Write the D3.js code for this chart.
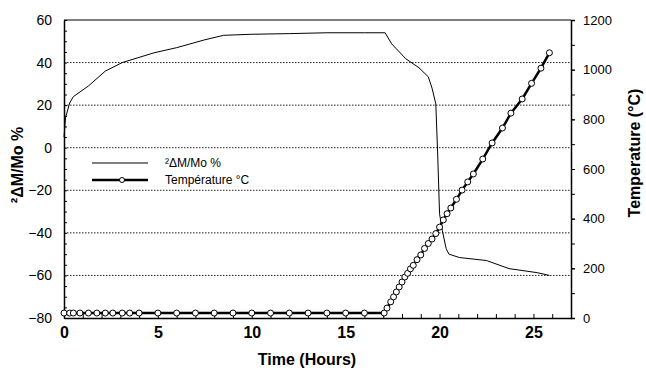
<!DOCTYPE html>
<html><head><meta charset="utf-8">
<script src="https://cdn.jsdelivr.net/npm/d3@7"></script>
<style>body{margin:0;background:#fff}svg{display:block}</style>
</head><body>
<svg id="c" width="646" height="371"></svg>
<script>
// ---- data ----
const massTime = [0, 0.08, 0.3, 0.5, 1.3, 2.2, 3.1, 4.8, 6.0, 7.5, 8.5, 10, 12, 14, 16, 17.1, 17.45, 18.2, 18.9, 19.4, 19.6, 19.8, 19.9, 20.0, 20.15, 20.35, 20.5, 21.06, 22.5, 23.7, 25.2, 25.85];
const massValue = [5, 14, 21, 24, 29, 36, 40, 44.6, 47, 50.7, 52.8, 53.3, 53.6, 54, 54, 54, 48.8, 41.8, 37.6, 33.3, 28, 20.6, -3, -31, -39, -47.4, -50, -51.6, -53, -56.8, -58.7, -60];
const tempTime = [0, 0.3, 0.5, 0.85, 1.3, 1.75, 2.2, 2.6, 3.1, 3.5, 4.0, 5, 6, 7, 8, 9, 10, 11, 12, 13, 14, 15, 16, 17.05,
  17.2, 17.4, 17.55, 17.7, 17.85, 18.0, 18.15, 18.3, 18.45, 18.6, 18.8, 19.0, 19.2, 19.4, 19.6, 19.8, 20.0, 20.2, 20.4, 20.6, 20.9, 21.2, 21.5, 21.8, 22.3, 22.8, 23.35, 23.8, 24.4, 24.9, 25.4, 25.85];
const tempValue = [20, 20, 20, 20, 20, 20, 20, 20, 20, 20, 20, 20, 20, 20, 20, 20, 20, 20, 20, 20, 20, 20, 20, 20,
  40, 65, 85, 105, 125, 145, 165, 180, 198, 212, 235, 254, 280, 300, 318, 340, 366, 395, 420, 443, 478, 515, 548, 580, 640, 705, 765, 825, 882, 945, 1006, 1068];
const xTicks = [0, 5, 10, 15, 20, 25];
const yLeftTicks = [60, 40, 20, 0, -20, -40, -60, -80];
const yRightTicks = [1200, 1000, 800, 600, 400, 200, 0];
const gridValues = [40, 20, 0, -20, -40, -60];

// ---- scales ----
const L = 64, R = 571, T = 20, B = 318;
const x = d3.scaleLinear().domain([0, 27]).range([L, R]);
const yL = d3.scaleLinear().domain([-80, 60]).range([B, T]);
const yR = d3.scaleLinear().domain([0, 1200]).range([B, T]);

const svg = d3.select("#c");
const font = "Arial, 'Liberation Sans', sans-serif";

// grid
svg.append("g").selectAll("line").data(gridValues).join("line")
  .attr("x1", L).attr("x2", R).attr("y1", d => yL(d)).attr("y2", d => yL(d))
  .attr("stroke", "#222").attr("stroke-width", 1).attr("stroke-dasharray", "1.5,1.5");

// frame top
svg.append("line").attr("x1", L).attr("x2", R).attr("y1", T).attr("y2", T).attr("stroke", "#000");

// left axis
const gL = svg.append("g").attr("transform", `translate(${L},0)`)
  .call(d3.axisLeft(yL).tickValues(yLeftTicks).tickSize(0).tickPadding(12).tickFormat(d3.format("d")));
gL.select(".domain").attr("stroke", "#000").attr("stroke-width", 1.5);
gL.selectAll("text").attr("font-family", font).attr("font-size", 14).attr("fill", "#000");
svg.append("g").attr("transform", `translate(${L},0)`)
  .call(d3.axisRight(yL).ticks(28).tickSize(3).tickFormat(""))
  .call(g => g.select(".domain").remove());

// right axis
const gR = svg.append("g").attr("transform", `translate(${R},0)`)
  .call(d3.axisRight(yR).tickValues(yRightTicks).tickSize(4).tickPadding(8).tickFormat(d3.format("d")));
gR.select(".domain").attr("stroke", "#000").attr("stroke-width", 1.5);
gR.selectAll("text").attr("font-family", font).attr("font-size", 13).attr("fill", "#000");
svg.append("g").attr("transform", `translate(${R},0)`)
  .call(d3.axisRight(yR).ticks(12).tickSize(4).tickFormat(""))
  .call(g => g.select(".domain").remove());

// bottom axis
const gB = svg.append("g").attr("transform", `translate(0,${B})`)
  .call(d3.axisBottom(x).tickValues(xTicks).tickSize(0).tickPadding(9).tickFormat(d3.format("d")));
gB.select(".domain").attr("stroke", "#000").attr("stroke-width", 1.5);
gB.selectAll("text").attr("font-family", font).attr("font-size", 16).attr("font-weight", "bold").attr("fill", "#000");
svg.append("g").attr("transform", `translate(0,${B})`)
  .call(d3.axisTop(x).ticks(27).tickSize(4).tickFormat(""))
  .call(g => g.select(".domain").remove());

// mass line
const massData = massTime.map((t, i) => [t, massValue[i]]);
svg.append("path").datum(massData)
  .attr("d", d3.line().x(d => x(d[0])).y(d => yL(d[1])))
  .attr("fill", "none").attr("stroke", "#000").attr("stroke-width", 1);

// temperature line
const tempData = tempTime.map((t, i) => [t, tempValue[i]]);
svg.append("path").datum(tempData)
  .attr("d", d3.line().x(d => x(d[0])).y(d => yR(d[1])))
  .attr("fill", "none").attr("stroke", "#000").attr("stroke-width", 2.5);
svg.append("g").selectAll("circle").data(tempData).join("circle")
  .attr("cx", d => x(d[0])).attr("cy", d => yR(d[1])).attr("r", 3)
  .attr("fill", "#fff").attr("stroke", "#000").attr("stroke-width", 1);

// legend
svg.append("line").attr("x1", 92).attr("x2", 148).attr("y1", 163).attr("y2", 163).attr("stroke", "#000").attr("stroke-width", 1);
svg.append("line").attr("x1", 92).attr("x2", 148).attr("y1", 180).attr("y2", 180).attr("stroke", "#000").attr("stroke-width", 2.5);
svg.append("circle").attr("cx", 122).attr("cy", 180).attr("r", 2.5).attr("fill", "#fff").attr("stroke", "#000");
svg.append("text").attr("x", 165).attr("y", 167).text("²ΔM/Mo %")
  .attr("font-family", font).attr("font-size", 12).attr("fill", "#000");
svg.append("text").attr("x", 165).attr("y", 184).text("Température °C")
  .attr("font-family", font).attr("font-size", 12).attr("fill", "#000");

// axis titles
svg.append("text").attr("transform", "translate(23,165) rotate(-90)").attr("text-anchor", "middle")
  .text("²ΔM/Mo %").attr("font-family", font).attr("font-size", 16).attr("font-weight", "bold");
svg.append("text").attr("transform", "translate(640,153) rotate(-90)").attr("text-anchor", "middle")
  .text("Temperature (°C)").attr("font-family", font).attr("font-size", 16).attr("font-weight", "bold");
svg.append("text").attr("x", 307).attr("y", 365).attr("text-anchor", "middle")
  .text("Time (Hours)").attr("font-family", font).attr("font-size", 16).attr("font-weight", "bold");
</script>
</body></html>
